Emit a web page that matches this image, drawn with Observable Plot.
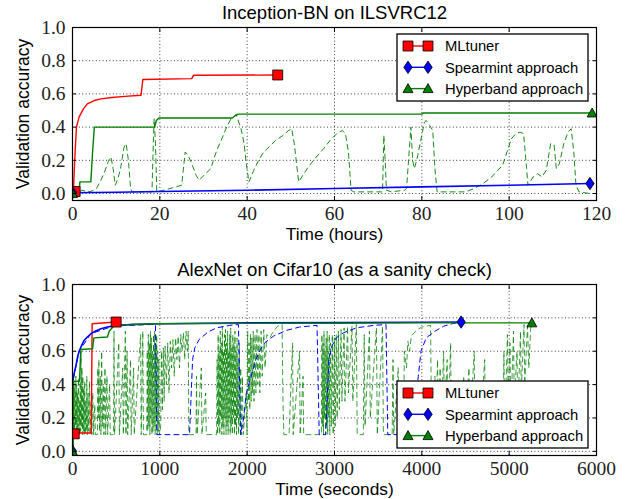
<!DOCTYPE html>
<html><head><meta charset="utf-8">
<script src="https://cdn.jsdelivr.net/npm/d3@7"></script>
<script src="https://cdn.jsdelivr.net/npm/@observablehq/plot@0.6"></script>
<style>
body{margin:0;background:#fff;}
#wrap{position:relative;width:626px;height:499px;overflow:hidden;background:#fff;}
#wrap > div, #wrap > svg{position:absolute;left:0;}
</style></head><body><div id="wrap"></div>
<script>
// ---------- shared ----------
const seriesNames = ["MLtuner", "Spearmint approach", "Hyperband approach"];
const seriesColors = ["#ff0000", "#0000ff", "#008000"];
const yLabel = "Validation accuracy";
const yTicks = [0, 0.2, 0.4, 0.6, 0.8, 1.0];

// ---------- top panel: Inception-BN (hours) ----------
const topTitle = "Inception-BN on ILSVRC12";
const topXLabel = "Time (hours)";
const topXTicks = [0, 20, 40, 60, 80, 100, 120];
const topMLtuner = [[0.2,0.01],[0.5,0.2],[0.9,0.4],[1.5,0.46],[2.5,0.51],[3.4,0.54],[5,0.56],[6.5,0.57],[9,0.578],[12,0.585],[15.7,0.592],[16.1,0.687],[27.3,0.692],[27.7,0.712],[47,0.714]];
const topSpearmint = [[0,0.005],[10,0.008],[20,0.012],[40,0.02],[60,0.03],[80,0.04],[100,0.05],[118.5,0.06]];
const topHyperBest = [[0,0],[1.5,0],[1.7,0.07],[4.2,0.07],[4.6,0.25],[5,0.4],[18.8,0.4],[19.2,0.44],[19.8,0.455],[36.6,0.455],[37.3,0.47],[38,0.478],[80,0.478],[80.3,0.485],[119,0.485]];
const topHyperTrials = [[0,0],[1.5,0],[2,0.02],[4,0.01],[5.5,0.03],[6.5,0.08],[7.2,0.12],[8.3,0.2],[8.8,0.22],[9.3,0.15],[9.8,0.05],[10.4,0.09],[11,0.15],[11.8,0.28],[12.3,0.3],[12.8,0.2],[13.3,0.03],[13.6,0.01],[18.2,0.01],[18.5,0.3],[18.7,0.45],[19,0.3],[19.3,0.01],[21,0.02],[23,0.035],[25,0.05],[25.8,0.25],[26.5,0.23],[27.6,0.16],[28.3,0.11],[29,0.08],[30.5,0.12],[31.7,0.15],[32.5,0.22],[33.2,0.27],[34.2,0.33],[35.3,0.4],[36.3,0.45],[37.5,0.475],[38.6,0.39],[39.3,0.3],[39.8,0.18],[40.4,0.07],[41.5,0.14],[42.6,0.2],[43.8,0.25],[45,0.28],[46.5,0.32],[48.2,0.35],[49.5,0.38],[50.2,0.39],[50.8,0.3],[51.3,0.18],[51.8,0.07],[52.5,0.1],[54,0.16],[55.5,0.21],[57.5,0.27],[59,0.32],[60.5,0.36],[61.8,0.38],[62.5,0.36],[63.2,0.25],[63.8,0.02],[64.4,0.01],[71,0.01],[71.3,0.35],[71.6,0.2],[71.9,0.02],[73,0.01],[76,0.02],[76.5,0.03],[77.5,0.4],[77.9,0.2],[78.3,0.15],[79,0.22],[79.6,0.3],[80.6,0.43],[81,0.44],[81.8,0.41],[82.5,0.38],[83,0.15],[83.5,0.01],[90,0.01],[92,0.03],[94,0.06],[96,0.1],[98.5,0.17],[99.5,0.25],[100.5,0.33],[101.5,0.36],[102.5,0.37],[103.3,0.36],[104,0.15],[104.3,0.05],[105.5,0.1],[106.5,0.12],[107.5,0.1],[108.5,0.14],[109.5,0.3],[110.3,0.29],[110.8,0.15],[111.5,0.18],[112.5,0.3],[113.5,0.37],[114.2,0.39],[114.8,0.25],[115.3,0.05],[116,0.01],[118.5,0.0]];
const topMarkers = [
  [[0.6,0.012],[47,0.714]],
  [[0,0.005],[118.5,0.06]],
  [[0,0],[119,0.485]]
];

// ---------- bottom panel: AlexNet (seconds) ----------
const botTitle = "AlexNet on Cifar10 (as a sanity check)";
const botXLabel = "Time (seconds)";
const botXTicks = [0, 1000, 2000, 3000, 4000, 5000, 6000];
const botMLtuner = [[20,0.105],[30,0.11],[215,0.11],[225,0.765],[300,0.768],[500,0.775]];
const botSpearmint = [[0,0],[3,0.42],[20,0.47],[38,0.51],[60,0.57],[76,0.6],[100,0.63],[133,0.665],[170,0.685],[210,0.705],[260,0.72],[324,0.735],[400,0.745],[477,0.752],[600,0.758],[800,0.762],[1000,0.765],[1500,0.768],[2000,0.77],[3000,0.772],[4000,0.774],[4450,0.775]];
const botSpearmintTrials = [[0,0],[3,0.42],[76,0.6],[210,0.705],[477,0.752],[900,0.76],[950,0.76],[965,0.1],[1340,0.1],[1375,0.55],[1400,0.62],[1450,0.67],[1550,0.715],[1650,0.74],[1800,0.755],[1900,0.76],[1925,0.1],[1960,0.2],[1990,0.35],[2050,0.46],[2100,0.55],[2150,0.61],[2200,0.65],[2300,0.69],[2450,0.725],[2600,0.745],[2800,0.755],[2825,0.1],[2900,0.1],[2935,0.55],[2970,0.63],[3020,0.68],[3100,0.71],[3250,0.74],[3450,0.755],[3590,0.76],[3610,0.1],[3880,0.1],[3920,0.3],[3960,0.45],[3990,0.6],[4050,0.68],[4150,0.72],[4250,0.75],[4350,0.765],[4450,0.775]];
const botHyperBest = [[0,0],[8,0],[10,0.42],[80,0.42],[95,0.61],[230,0.615],[245,0.68],[400,0.685],[420,0.72],[470,0.75],[520,0.755],[700,0.762],[1000,0.765],[2000,0.767],[3000,0.768],[4000,0.77],[5260,0.77]];
const botHyperTrials = [[0,0],[5,0.1],[8,0.3],[14,0.12],[18,0.42],[24,0.1],[28,0.38],[34,0.15],[38,0.45],[44,0.1],[48,0.4],[54,0.12],[58,0.35],[64,0.1],[68,0.44],[74,0.15],[78,0.3],[84,0.1],[88,0.42],[94,0.12],[98,0.6],[104,0.15],[108,0.5],[114,0.1],[118,0.45],[124,0.12],[128,0.38],[134,0.1],[140,0.42],[146,0.1],[152,0.3],[158,0.12],[164,0.45],[170,0.1],[178,0.35],[186,0.12],[194,0.42],[202,0.1],[212,0.3],[222,0.1],[232,0.35],[242,0.1],[255,0.28],[262,0.1],
  [285,0.1],[290,0.5],[296,0.2],[302,0.55],[310,0.12],[318,0.45],[326,0.1],[334,0.6],[342,0.15],[352,0.4],[360,0.1],[372,0.5],[380,0.1],[395,0.45],[402,0.1],[425,0.4],[432,0.1],
  [470,0.1],[475,0.72],[482,0.1],[530,0.65],[537,0.1],[575,0.5],[582,0.1],[605,0.72],[612,0.1],[625,0.6],[632,0.1],[665,0.55],[672,0.1],[700,0.5],[707,0.1],[780,0.7],[787,0.1],[805,0.72],[812,0.1],
  [850,0.1],[856,0.6],[862,0.12],[868,0.7],[874,0.15],[880,0.65],[886,0.1],[892,0.72],[898,0.2],[904,0.68],[910,0.1],[916,0.6],[922,0.12],[928,0.7],[934,0.15],[940,0.72],[946,0.1],[952,0.65],[958,0.2],[964,0.7],[970,0.1],[976,0.6],[982,0.12],[988,0.55],[994,0.1],
  [1010,0.15],[1020,0.6],[1030,0.25],[1040,0.62],[1050,0.3],[1060,0.63],[1075,0.4],[1090,0.65],[1105,0.35],[1120,0.66],[1135,0.5],[1150,0.67],[1165,0.45],[1180,0.68],[1195,0.55],[1210,0.69],[1225,0.5],[1240,0.7],[1255,0.6],[1270,0.71],[1285,0.55],[1300,0.72],[1315,0.6],[1325,0.72],[1332,0.1],
  [1415,0.1],[1420,0.45],[1427,0.1],[1475,0.5],[1482,0.1],[1525,0.35],[1532,0.1],[1600,0.1],
  [1650,0.1],[1656,0.55],[1662,0.1],[1668,0.7],[1674,0.15],[1680,0.6],[1686,0.1],[1692,0.72],[1698,0.2],[1704,0.65],[1710,0.1],[1716,0.75],[1722,0.15],[1728,0.6],[1734,0.1],[1740,0.7],[1746,0.2],[1752,0.73],[1758,0.1],[1764,0.65],[1770,0.15],[1776,0.72],[1782,0.1],[1788,0.6],[1794,0.2],[1800,0.7],[1806,0.1],[1812,0.74],[1818,0.15],[1824,0.62],[1830,0.1],[1836,0.7],[1842,0.2],[1848,0.65],[1854,0.1],[1860,0.72],[1866,0.15],[1872,0.6],[1878,0.1],[1884,0.68],[1890,0.2],[1896,0.55],[1902,0.1],[1910,0.65],[1918,0.15],[1926,0.5],[1934,0.1],[1945,0.45],[1955,0.1],
  [1990,0.35],[1998,0.1],[2006,0.72],[2014,0.3],[2022,0.65],[2030,0.25],[2038,0.7],[2046,0.3],[2054,0.68],[2062,0.35],[2070,0.72],[2078,0.3],[2090,0.7],[2100,0.35],[2112,0.73],[2122,0.4],[2135,0.7],[2145,0.35],[2160,0.72],[2172,0.45],[2190,0.73],[2205,0.5],[2225,0.7],
  [2260,0.68],[2300,0.72],[2350,0.75],[2400,0.76],[2410,0.3],[2420,0.1],[2480,0.1],[2520,0.65],[2527,0.1],[2600,0.6],[2607,0.1],[2640,0.45],[2647,0.1],
  [2850,0.1],[2856,0.7],[2862,0.15],[2868,0.65],[2874,0.1],[2880,0.72],[2886,0.2],[2892,0.6],[2898,0.1],[2904,0.68],[2910,0.15],[2916,0.72],[2922,0.1],[2928,0.6],[2934,0.2],[2940,0.7],[2946,0.1],[2955,0.65],[2964,0.15],[2975,0.7],[2985,0.1],[2998,0.68],[3008,0.15],
  [3020,0.7],[3030,0.2],[3045,0.72],[3055,0.25],[3075,0.73],[3085,0.3],[3110,0.74],[3120,0.3],[3150,0.75],[3160,0.35],[3200,0.75],[3210,0.3],[3250,0.76],[3260,0.1],
  [3330,0.1],[3340,0.7],[3350,0.15],[3400,0.72],[3410,0.2],[3480,0.74],[3490,0.1],[3550,0.75],[3560,0.1],
  [3660,0.1],[3670,0.55],[3678,0.1],[3730,0.5],[3738,0.1],
  [3790,0.1],[3800,0.6],[3825,0.5],[3840,0.66],[3860,0.6],[3880,0.69],[3910,0.71],[3950,0.73],[4000,0.745],[4050,0.75],[4100,0.755],[4110,0.2],[4118,0.1],
  [4150,0.45],[4158,0.1],[4180,0.55],[4188,0.15],[4210,0.5],[4218,0.1],[4250,0.6],[4258,0.2],[4290,0.55],[4298,0.1],[4330,0.65],[4338,0.1],
  [4470,0.1],[4480,0.45],[4488,0.1],[4540,0.5],[4548,0.1],[4600,0.6],[4608,0.15],[4660,0.4],[4668,0.1],[4720,0.55],[4728,0.1],
  [4930,0.1],[4940,0.6],[4948,0.1],[4980,0.7],[4988,0.3],[5010,0.65],[5018,0.2],[5050,0.72],[5058,0.3],[5090,0.6],[5098,0.2],[5130,0.72],[5138,0.35],[5170,0.76],[5178,0.4],[5210,0.75],[5225,0.5],[5250,0.77]];
const botMarkers = [
  [[20,0.105],[500,0.775]],
  [[0,0],[4450,0.775]],
  [[0,0],[5260,0.77]]
];

// ---------- symbols ----------
const symSquare = {draw(ctx, size){const s=Math.sqrt(size); ctx.moveTo(-s/2,-s/2); ctx.lineTo(s/2,-s/2); ctx.lineTo(s/2,s/2); ctx.lineTo(-s/2,s/2); ctx.closePath();}};
const symDiamond = {draw(ctx, size){const s=Math.sqrt(size); const w=s*0.42, h=s*0.62; ctx.moveTo(0,-h); ctx.lineTo(w,0); ctx.lineTo(0,h); ctx.lineTo(-w,0); ctx.closePath();}};
const symTriangle = {draw(ctx, size){const s=Math.sqrt(size); const h=s*0.5; ctx.moveTo(0,-h); ctx.lineTo(h,h*0.8); ctx.lineTo(-h,h*0.8); ctx.closePath();}};
const symbols = [symSquare, symDiamond, symTriangle];
const R = 10/Math.sqrt(Math.PI);

const SANS = "'Liberation Sans', Arial, Helvetica, sans-serif";
const SERIF = "'Liberation Serif', 'Times New Roman', serif";

function panel({height, mt, mb, xDomain, yDomain, xTicks, title, xLabel, lines, markers, trialOpacity}) {
  const gridStyle = {stroke: "black", strokeOpacity: 0.85, strokeWidth: 0.9, strokeDasharray: "1,2.4"};
  const [green, blue, red, blueBest, greenBest] = lines;
  const mid = {textAnchor: "middle", lineAnchor: "middle", fontFamily: SANS, fill: "black"};
  return Plot.plot({
    width: 626, height, marginLeft: 72, marginRight: 30, marginTop: mt, marginBottom: mb,
    x: {domain: xDomain}, y: {domain: yDomain},
    style: {background: "white", fontFamily: SANS, color: "black", overflow: "visible"},
    marks: [
      Plot.gridX({ticks: xTicks, ...gridStyle}),
      Plot.gridY({ticks: yTicks, ...gridStyle}),
      Plot.line(green, {stroke: seriesColors[2], strokeWidth: 1, strokeDasharray: "5,4", strokeOpacity: trialOpacity, clip: true}),
      blue ? Plot.line(blue, {stroke: seriesColors[1], strokeWidth: 1, strokeDasharray: "5,4", clip: true}) : null,
      Plot.line(red, {stroke: seriesColors[0], strokeWidth: 1.4, clip: true}),
      Plot.line(blueBest, {stroke: seriesColors[1], strokeWidth: 1.6, clip: true}),
      Plot.line(greenBest, {stroke: seriesColors[2], strokeWidth: 1.4, clip: true}),
      ...markers.map((pts, i) => Plot.dot(pts, {symbol: symbols[i], r: R, fill: seriesColors[i], stroke: "black", strokeWidth: 0.8, clip: true})),
      Plot.frame({stroke: "black", strokeWidth: 1.2}),
      Plot.axisX({ticks: xTicks, anchor: "bottom", tickSize: 4, dy: -4, tickFormat: () => "", label: null}),
      Plot.axisX({ticks: xTicks, anchor: "top", tickSize: 4, dy: 4, tickFormat: () => "", label: null}),
      Plot.axisY({ticks: yTicks, anchor: "left", tickSize: 4, dx: 4, tickFormat: () => "", label: null}),
      Plot.axisY({ticks: yTicks, anchor: "right", tickSize: 4, dx: -4, tickFormat: () => "", label: null}),
      Plot.axisX({ticks: xTicks, anchor: "bottom", tickSize: 0, tickPadding: 6, tickFormat: d => String(d), label: null, fontFamily: SERIF, fontSize: 19.5, fill: "#222"}),
      Plot.axisY({ticks: yTicks, anchor: "left", tickSize: 0, tickPadding: 7, tickFormat: d3.format(".1f"), label: null, fontFamily: SERIF, fontSize: 19.5, fill: "#222"}),
      Plot.text([title], {frameAnchor: "top", dy: -14.5, fontSize: 18.5, ...mid}),
      Plot.text([xLabel], {frameAnchor: "bottom", dy: 33.5, fontSize: 17.3, ...mid}),
      Plot.text([yLabel], {frameAnchor: "left", rotate: -90, dx: -49, fontSize: 17.5, ...mid})
    ].filter(Boolean)
  });
}

function legend(top) {
  const svg = d3.create("svg").attr("width", 194).attr("height", 70)
    .style("position", "absolute").style("left", "396px").style("top", (top - 1) + "px");
  svg.append("rect").attr("x", 1).attr("y", 1).attr("width", 191).attr("height", 67)
    .attr("fill", "white").attr("stroke", "black").attr("stroke-width", 1.3);
  seriesNames.forEach((name, i) => {
    const cy = 13 + 21.3 * i;
    svg.append("line").attr("x1", 12).attr("x2", 32).attr("y1", cy).attr("y2", cy)
      .attr("stroke", seriesColors[i]).attr("stroke-width", 1.4);
    [12, 32].forEach(cx => {
      const p = d3.path(); symbols[i].draw(p, R * R * Math.PI);
      svg.append("path").attr("d", p.toString()).attr("transform", `translate(${cx},${cy})`)
        .attr("fill", seriesColors[i]).attr("stroke", "black").attr("stroke-width", 0.8);
    });
    svg.append("text").attr("x", 49).attr("y", cy + 5.2).text(name)
      .attr("font-family", SANS).attr("font-size", 14.8).attr("fill", "black");
  });
  return svg.node();
}

const wrap = document.getElementById("wrap");
const top1 = panel({height: 250, mt: 27, mb: 50, xDomain: [0, 120], yDomain: [-0.042, 1.0], xTicks: topXTicks,
  title: topTitle, xLabel: topXLabel, trialOpacity: 0.9,
  lines: [topHyperTrials, null, topMLtuner, topSpearmint, topHyperBest], markers: topMarkers});
const d1 = document.createElement("div"); d1.style.top = "0px"; d1.appendChild(top1); wrap.appendChild(d1);
const bot = panel({height: 249, mt: 34, mb: 44, xDomain: [0, 6000], yDomain: [-0.025, 1.0], xTicks: botXTicks,
  title: botTitle, xLabel: botXLabel, trialOpacity: 0.75,
  lines: [botHyperTrials, botSpearmintTrials, botMLtuner, botSpearmint, botHyperBest], markers: botMarkers});
const d2 = document.createElement("div"); d2.style.top = "250px"; d2.appendChild(bot); wrap.appendChild(d2);
wrap.appendChild(legend(34));
wrap.appendChild(legend(381));
</script></body></html>
